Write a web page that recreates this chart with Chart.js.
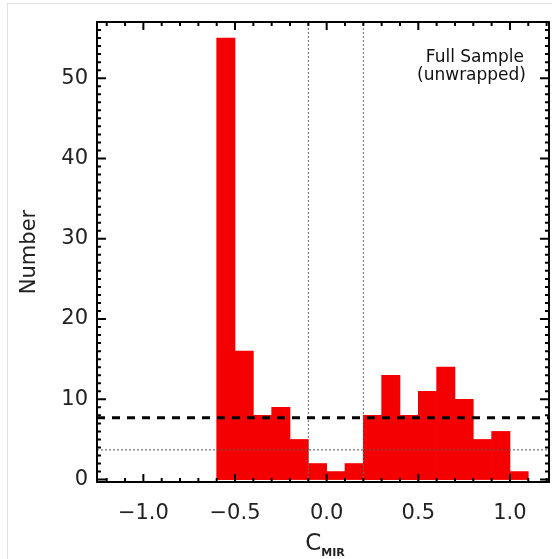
<!DOCTYPE html>
<html>
<head>
<meta charset="utf-8">
<script src="https://cdn.jsdelivr.net/npm/chart.js@4.4.1/dist/chart.umd.min.js"></script>
<style>
  html, body { margin: 0; padding: 0; background: #fff; }
  #wrap { position: relative; width: 552px; height: 559px; }
  #frame { position: absolute; left: 7px; top: 3px; right: 0; bottom: 0;
           border-left: 1px solid #e2e2e2; border-top: 1px solid #e2e2e2; }
  canvas { position: absolute; left: 0; top: 0; }
</style>
</head>
<body>
<div id="wrap">
  <div id="frame"></div>
  <canvas id="hist" width="552" height="559"></canvas>
</div>
<script>
// histogram bins (left edges) and counts
const binStarts = [-0.6, -0.5, -0.4, -0.3, -0.2, -0.1, 0.0, 0.1, 0.2, 0.3, 0.4, 0.5, 0.6, 0.7, 0.8, 0.9, 1.0];
const counts    = [55, 16, 8, 9, 5, 2, 1, 2, 8, 13, 8, 11, 14, 10, 5, 6, 1];
const binWidth = 0.1;

// reference lines
const dashedLevel = 7.7;
const dottedLevel = 3.7;
const dottedCuts = [-0.1, 0.2];

// axis ticks
const xTickValues = [-1.0, -0.5, 0.0, 0.5, 1.0];
const xTickLabels = ['\u22121.0', '\u22120.5', '0.0', '0.5', '1.0'];
const yTickValues = [0, 10, 20, 30, 40, 50];
const yTickLabels = ['0', '10', '20', '30', '40', '50'];

const xMin = -1.253, xMax = 1.213;
const yMin = -0.3, yMax = 57;

const FONT = "'DejaVu Sans', sans-serif";

const histData = binStarts.map((b, i) => ({ x: b + binWidth / 2, y: counts[i] }));

const hLine = (level) => [{ x: xMin, y: level }, { x: xMax, y: level }];
const vLine = (pos) => [{ x: pos, y: yMin }, { x: pos, y: yMax }];

// inward tick marks, box frame, annotations
const idlAxes = {
  id: 'idlAxes',
  afterDraw(chart) {
    const { ctx, chartArea: a, scales: { x, y } } = chart;
    ctx.save();
    ctx.strokeStyle = '#000';
    ctx.lineWidth = 2;
    ctx.strokeRect(a.left, a.top, a.right - a.left, a.bottom - a.top);

    ctx.lineWidth = 2;
    ctx.beginPath();
    for (let i = -12; i <= 12; i++) {
      const v = i / 10;
      if (v < xMin || v > xMax) continue;
      const px = x.getPixelForValue(v);
      const len = (i % 5 === 0) ? 8 : 4;
      ctx.moveTo(px, a.bottom); ctx.lineTo(px, a.bottom - len);
      ctx.moveTo(px, a.top); ctx.lineTo(px, a.top + len);
    }
    for (let v = 0; v <= yMax; v++) {
      const py = y.getPixelForValue(v);
      const len = (v % 10 === 0) ? 9 : 4;
      ctx.moveTo(a.left, py); ctx.lineTo(a.left + len, py);
      ctx.moveTo(a.right, py); ctx.lineTo(a.right - len, py);
    }
    ctx.stroke();

    // x title with subscript
    ctx.fillStyle = '#222';
    ctx.textBaseline = 'alphabetic';
    ctx.textAlign = 'left';
    ctx.font = `23px ${FONT}`;
    const cw = ctx.measureText('C').width;
    ctx.font = `bold 11px ${FONT}`;
    const sw = ctx.measureText('MIR').width;
    const x0 = 325 - (cw + sw) / 2;
    ctx.font = `23px ${FONT}`;
    ctx.fillText('C', x0, 550);
    ctx.font = `bold 11px ${FONT}`;
    ctx.fillText('MIR', x0 + cw, 556);

    // sample label
    ctx.font = `17px ${FONT}`;
    ctx.textAlign = 'right';
    ctx.fillStyle = '#111';
    ctx.fillText('Full Sample', 524, 62);
    ctx.fillText('(unwrapped)', 526, 80);
    ctx.restore();
  }
};

new Chart(document.getElementById('hist'), {
  type: 'bar',
  data: {
    datasets: [
      {
        type: 'line', data: hLine(dashedLevel), borderColor: '#000', borderWidth: 3,
        borderDash: [8, 7], pointRadius: 0, order: 0
      },
      {
        type: 'line', data: hLine(dottedLevel), borderColor: '#555', borderWidth: 1,
        borderDash: [2, 2], pointRadius: 0, order: 0
      },
      ...dottedCuts.map(c => ({
        type: 'line', data: vLine(c), borderColor: '#666', borderWidth: 1,
        borderDash: [2, 2], pointRadius: 0, order: 0
      })),
      {
        type: 'bar', data: histData, backgroundColor: '#f50000', borderWidth: 0,
        barPercentage: 1, categoryPercentage: 1, order: 1
      }
    ]
  },
  options: {
    responsive: false,
    animation: false,
    events: [],
    layout: { padding: { top: 22, right: 3, left: 0, bottom: 0 } },
    plugins: { legend: { display: false }, tooltip: { enabled: false } },
    scales: {
      x: {
        type: 'linear', min: xMin, max: xMax, offset: false,
        grid: { display: false, drawTicks: false },
        border: { display: false },
        afterBuildTicks: s => { s.ticks = xTickValues.map(v => ({ value: v })); },
        afterFit: s => { s.height = 77; },
        ticks: {
          padding: 19, color: '#222', font: { family: FONT, size: 21 },
          autoSkip: false, maxRotation: 0,
          callback: (v, i) => xTickLabels[i]
        }
      },
      y: {
        type: 'linear', min: yMin, max: yMax,
        grid: { display: false, drawTicks: false },
        border: { display: false },
        afterBuildTicks: s => { s.ticks = yTickValues.map(v => ({ value: v })); },
        afterFit: s => { s.width = 97; },
        ticks: {
          padding: 9, color: '#222', font: { family: FONT, size: 21 },
          callback: (v, i) => yTickLabels[i]
        },
        title: {
          display: true, text: 'Number', color: '#222',
          font: { family: FONT, size: 21 }, padding: { top: 17, bottom: 0 }
        }
      }
    }
  },
  plugins: [idlAxes]
});
</script>
</body>
</html>
